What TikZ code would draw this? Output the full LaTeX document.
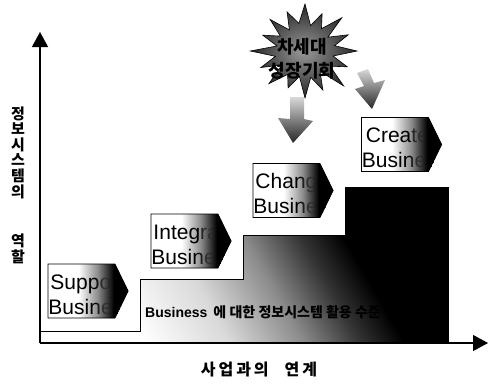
\documentclass[tikz,border=0pt]{standalone}
\usepackage{fontspec}
\setmainfont{Liberation Sans}
\newfontfamily\kr{Noto Sans CJK KR}
\usetikzlibrary{arrows.meta,shapes.symbols,fadings}
\pgfdeclarehorizontalshading{chevshade}{100bp}{color(0bp)=(white); color(25bp)=(white); color(44bp)=(white); color(56bp)=(black!45); color(66bp)=(black); color(100bp)=(black)}
\pgfdeclarehorizontalshading{stairshade}{100bp}{color(0bp)=(white); color(30bp)=(white); color(42bp)=(black!15); color(52bp)=(black!45); color(60bp)=(black!80); color(66bp)=(black); color(100bp)=(black)}
\pgfdeclarehorizontalshading{chevmask}{100bp}{color(0bp)=(pgftransparent!100); color(54bp)=(pgftransparent!100); color(64bp)=(pgftransparent!0); color(100bp)=(pgftransparent!0)}
\pgfdeclarefading{chevfade}{\pgfuseshading{chevmask}}
\newcommand{\chevlabels}[4]{%
  \node[ctext] (#1a) at ([shift={(2pt,-25pt)}]path picture bounding box.north west) {#2};
  \node[ctext] (#1b) at ([shift={(0pt,-50pt)}]path picture bounding box.north west) {#3};
  \shade[overlay shade] (path picture bounding box.south west) rectangle (path picture bounding box.north east);}
\begin{document}
\begin{tikzpicture}[x=1pt,y=-1pt,
  chev/.style={signal, signal to=east, signal from=nowhere, signal pointer angle=128, draw=black, line width=0.8pt, shade, shading=chevshade, minimum width=80pt, minimum height=54pt, inner sep=0pt},
  ctext/.style={anchor=base west, inner sep=0pt, font=\fontsize{21}{21}\selectfont},
  overlay shade/.style={shading=chevshade, path fading=chevfade, fit fading=true},
  axisline/.style={line width=1.2pt, -{Triangle[length=15pt,width=16pt]}},
  krlabel/.style={font=\kr\bfseries\fontsize{15}{15.6}\selectfont, inner sep=0pt, align=center},
  blockarrow/.style={shade, top color=black!15, bottom color=black!85, draw=none}
]
\useasboundingbox (0,0) rectangle (489,384);

% staircase
\path[draw=black, line width=0.8pt, shade, shading=stairshade, shading angle=30]
  (40,343) -- (40,331) -- (140,331) -- (140,279) -- (243,279) -- (243,235)
  -- (345,235) -- (345,187) -- (448,187) -- (448,343) -- cycle;

% axes
\coordinate (o) at (40,343);
\coordinate (yt) at (40,32);
\coordinate (xt) at (488,343);
\draw[axisline] (o) -- (yt);
\draw[axisline] (o) -- (xt);

% chevrons
\node[chev, path picture={\chevlabels{sup}{Support}{Business}{}}] (sup) at (81.5,291) {};
\node[chev, path picture={\chevlabels{int}{Integral}{Business}{}}] (int) at (184.5,241) {};
\node[chev, path picture={\chevlabels{chg}{Change}{Business}{}}] (chg) at (286.5,190.5) {};
\node[chev, path picture={\chevlabels{crt}{Create}{Business}{}}] (crt) at (395,144.5) {};

% bottom text
\node[anchor=base west, inner sep=0pt] (lvl) at (145,317)
  {\fontsize{14}{14}\selectfont\bfseries Business\hspace{6pt}{\kr 에 대한 정보시스템 활용 수준}};

% starburst
\path[draw=black, line width=0.6pt, shade, inner color=black!40, outer color=black!85]
  ([shift={(305,51)}]0:52 and 47)
  foreach \a/\r in {11.25/0.55, 22.5/0.88, 33.75/0.58, 45/1.05, 56.25/0.52, 67.5/0.9, 78.75/0.57, 90/1.0, 101.25/0.55, 112.5/0.85, 123.75/0.6, 135/0.98, 146.25/0.53, 157.5/0.92, 168.75/0.58, 180/1.05, 191.25/0.55, 202.5/0.88, 213.75/0.57, 225/0.95, 236.25/0.54, 247.5/0.9, 258.75/0.6, 270/1.0, 281.25/0.55, 292.5/0.86, 303.75/0.57, 315/1.0, 326.25/0.53, 337.5/0.9, 348.75/0.58}
  { -- ([shift={(305,51)}]\a:{52*\r} and {47*\r}) } -- cycle;
\node[font=\kr\bfseries\fontsize{18}{24}\selectfont, align=center, inner sep=0pt] (star) at (302,59) {차세대\\성장기회};

% block arrows
\path[blockarrow] (290,97) -- (304,97) -- (304,119) -- (313,121) -- (293,143) -- (278,118) -- (290,119) -- cycle;
\path[blockarrow] (357,73) -- (368,69) -- (374,83) -- (385,80) -- (372,109) -- (355,89) -- (364,86) -- cycle;

% axis labels
\node[krlabel] (ylab) at (18,185) {정\\보\\시\\스\\템\\의\\[34pt]역\\할};
\node[font=\kr\bfseries\fontsize{16}{16}\selectfont, inner sep=0pt] (xlab) at (259,370) {사\hspace{3pt}업\hspace{3pt}과\hspace{3pt}의\hspace{16pt}연\hspace{3pt}계};
\end{tikzpicture}
\end{document}
